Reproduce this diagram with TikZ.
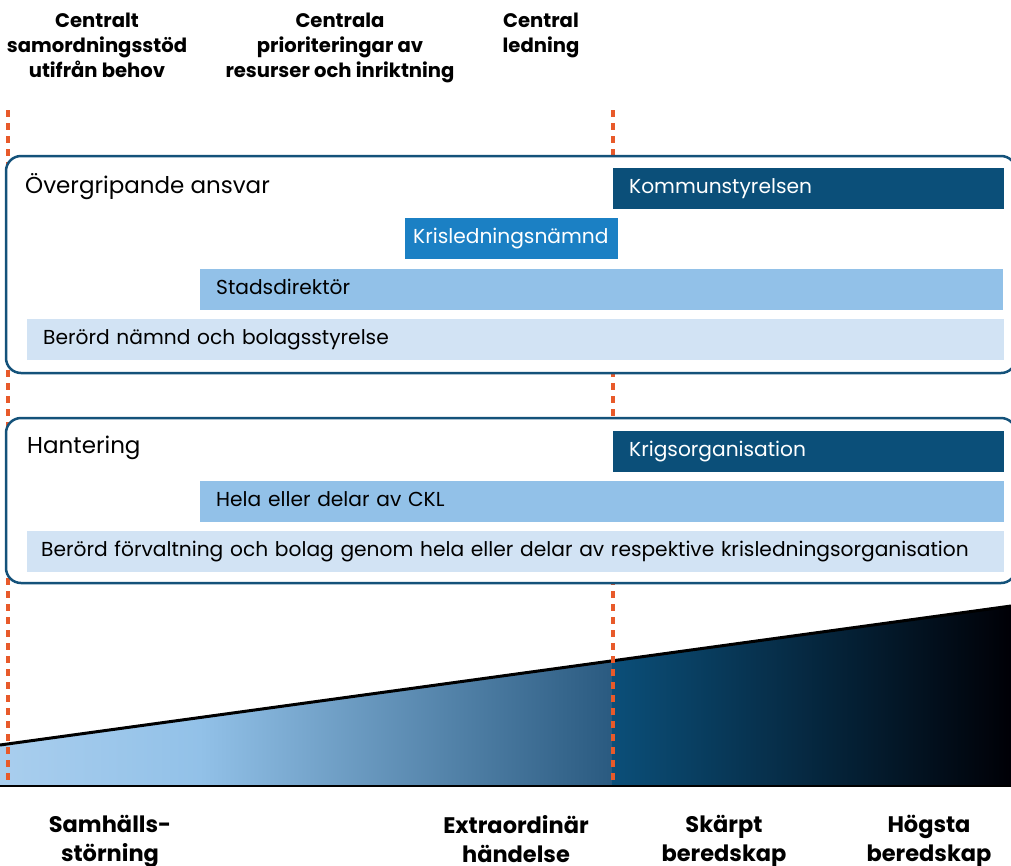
\documentclass[tikz,border=0pt]{standalone}
\usepackage{fontspec}
\setmainfont{Poppins}
\definecolor{cdark}{HTML}{0B4F79}
\definecolor{cmid}{HTML}{1B80C4}
\definecolor{clight}{HTML}{92C1E8}
\definecolor{cpale}{HTML}{D2E3F4}
\definecolor{cframe}{HTML}{14527A}
\definecolor{corange}{HTML}{E85A2A}
\definecolor{gA}{HTML}{A9CEEE}
\definecolor{gB}{HTML}{92C1E8}
\definecolor{gC}{HTML}{2A5A80}
\definecolor{gD}{HTML}{0B4F79}
\definecolor{gE}{HTML}{000006}
\begin{document}
\begin{tikzpicture}[x=1pt,y=-1pt,
  bar/.style={anchor=north west, inner xsep=16pt, inner ysep=0pt, minimum height=41pt,
    text height=14pt, text depth=5pt, align=left, font=\fontsize{20.2}{23}\selectfont},
  boxtitle/.style={anchor=base west, inner sep=0pt, font=\fontsize{23}{26}\selectfont},
  toplabel/.style={anchor=north, inner sep=0pt, align=center, font=\bfseries\fontsize{19.6}{25}\selectfont},
  botlabel/.style={anchor=north, inner sep=0pt, align=center, font=\bfseries\fontsize{22.5}{29}\selectfont},
  frame/.style={draw=cframe, line width=2.5pt, fill=white, rounded corners=15pt},
  dashline/.style={draw=corange, line width=3.2pt, dash pattern=on 7pt off 6pt},
]
\useasboundingbox (0,0) rectangle (1011,865);

% gradient wedge
\coordinate (wl) at (0,745);
\coordinate (wr) at (1011,606);
\coordinate (bl) at (0,786);
\coordinate (br) at (1011,786);
\begin{scope}
  \clip (wl) -- (wr) -- (br) -- (bl) -- cycle;
  \fill[left color=gA, right color=gB] (0,600) rectangle (200.5,790);
  \fill[left color=gB, right color=gC] (200,600) rectangle (612.5,790);
  \fill[left color=gD, right color=gE] (612,600) rectangle (1011,790);
\end{scope}
\draw[line width=3pt] (wl) -- (wr);
\draw[line width=2.5pt] (bl) -- (br);

% dashed lines
\coordinate (d1t) at (8,110);
\coordinate (d1b) at (8,786);
\coordinate (d2t) at (613,110);
\coordinate (d2b) at (613,786);
\draw[dashline] (d1t) -- (d1b);
\draw[dashline] (d2t) -- (d2b);

% frames
\draw[frame] (6,156) rectangle (1016,373);
\draw[frame] (6,418) rectangle (1016,583);

% box 1
\node[boxtitle] (t1) at (25,193) {Övergripande ansvar};
\node[bar, fill=cdark, text=white, text width=359pt] (ks) at (613,168) {Kommunstyrelsen};
\node[bar, fill=cmid, text=white, inner xsep=8pt, text width=197pt] (kl) at (405,218) {Krisledningsnämnd};
\node[bar, fill=clight, text width=771pt] (sd) at (200,269) {Stadsdirektör};
\node[bar, fill=cpale, text width=945pt] (bn) at (27,319) {Berörd nämnd och bolagsstyrelse};

% box 2
\node[boxtitle] (t2) at (27,453) {Hantering};
\node[bar, fill=cdark, text=white, text width=359pt] (ko) at (613,431) {Krigsorganisation};
\node[bar, fill=clight, text width=772pt] (ckl) at (200,481) {Hela eller delar av CKL};
\node[bar, fill=cpale, inner xsep=14pt, text width=949pt] (bf) at (27,531) {Berörd förvaltning och bolag genom hela eller delar av respektive krisledningsorganisation};

% top labels
\node[toplabel] (l1) at (97,13) {Centralt\\samordningsstöd\\utifrån behov};
\node[toplabel] (l2) at (340,13) {Centrala\\prioriteringar av\\resurser och inriktning};
\node[toplabel] (l3) at (541,13) {Central\\ledning};

% bottom labels
\node[botlabel] (b1) at (110,815) {Samhälls-\\störning};
\node[botlabel] (b2) at (516,815) {Extraordinär\\händelse};
\node[botlabel] (b3) at (724,815) {Skärpt\\beredskap};
\node[botlabel] (b4) at (929,815) {Högsta\\beredskap};
\end{tikzpicture}
\end{document}
